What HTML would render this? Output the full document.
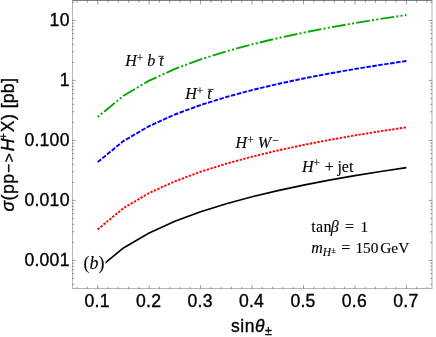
<!DOCTYPE html>
<html><head><meta charset="utf-8"><title>plot</title>
<style>html,body{margin:0;padding:0;background:#fff;}body{width:436px;height:337px;overflow:hidden;}svg{display:block;will-change:transform;}text{font-family:"Liberation Sans",sans-serif;fill:#000;stroke:#000;stroke-width:0.35px;}.s{font-family:"Liberation Serif",serif;stroke-width:0.12px;white-space:pre;}.i{font-style:italic;}</style>
</head><body>
<svg width="436" height="337" viewBox="0 0 436 337">
<rect x="0" y="0" width="436" height="337" fill="#fff"/>
<g fill="none" stroke-linejoin="round">
<path d="M97.70 117.00 L123.43 95.75 L149.15 80.67 L174.88 68.97 L200.60 59.41 L226.32 51.33 L252.05 44.33 L277.78 38.16 L303.50 32.64 L329.23 27.64 L354.95 23.08 L380.68 18.88 L406.40 15.00" stroke="#00a800" stroke-width="1.9" stroke-dasharray="2.1 2.2 2.1 2.2 13.79 2.2" stroke-dashoffset="0.2"/>
<path d="M97.70 162.10 L123.43 141.03 L149.15 126.09 L174.88 114.49 L200.60 105.02 L226.32 97.01 L252.05 90.07 L277.78 83.96 L303.50 78.48 L329.23 73.53 L354.95 69.01 L380.68 64.85 L406.40 61.00" stroke="#0000ff" stroke-width="1.9" stroke-dasharray="4.55 1.467"/>
<path d="M97.70 229.40 L123.43 208.13 L149.15 193.03 L174.88 181.32 L200.60 171.76 L226.32 163.67 L252.05 156.66 L277.78 150.48 L303.50 144.95 L329.23 139.95 L354.95 135.39 L380.68 131.19 L406.40 127.30" stroke="#ff0000" stroke-width="1.9" stroke-dasharray="2.4 1.4"/>
<path d="M97.70 269.10 L123.43 247.95 L149.15 232.94 L174.88 221.31 L200.60 211.80 L226.32 203.76 L252.05 196.79 L277.78 190.65 L303.50 185.15 L329.23 180.18 L354.95 175.64 L380.68 171.47 L406.40 167.60" stroke="#000" stroke-width="1.65"/>
</g>
<g stroke="#6a6a6a" fill="none">
<path d="M72.25 0.5 H432.25" stroke-width="0.85"/>
<path d="M72.25 288.50 H432.25" stroke-width="0.5"/>
<path d="M72.50 0 V288.75" stroke-width="0.5"/>
<path d="M432.00 0 V288.75" stroke-width="0.5"/>
</g>
<path d="M77.12 288.75 v-1.95 M77.12 0.00 v2.70 M87.41 288.75 v-1.95 M87.41 0.00 v2.70 M97.70 288.75 v-3.55 M97.70 0.00 v4.30 M107.99 288.75 v-1.95 M107.99 0.00 v2.70 M118.28 288.75 v-1.95 M118.28 0.00 v2.70 M128.57 288.75 v-1.95 M128.57 0.00 v2.70 M138.86 288.75 v-1.95 M138.86 0.00 v2.70 M149.15 288.75 v-3.55 M149.15 0.00 v4.30 M159.44 288.75 v-1.95 M159.44 0.00 v2.70 M169.73 288.75 v-1.95 M169.73 0.00 v2.70 M180.02 288.75 v-1.95 M180.02 0.00 v2.70 M190.31 288.75 v-1.95 M190.31 0.00 v2.70 M200.60 288.75 v-3.55 M200.60 0.00 v4.30 M210.89 288.75 v-1.95 M210.89 0.00 v2.70 M221.18 288.75 v-1.95 M221.18 0.00 v2.70 M231.47 288.75 v-1.95 M231.47 0.00 v2.70 M241.76 288.75 v-1.95 M241.76 0.00 v2.70 M252.05 288.75 v-3.55 M252.05 0.00 v4.30 M262.34 288.75 v-1.95 M262.34 0.00 v2.70 M272.63 288.75 v-1.95 M272.63 0.00 v2.70 M282.92 288.75 v-1.95 M282.92 0.00 v2.70 M293.21 288.75 v-1.95 M293.21 0.00 v2.70 M303.50 288.75 v-3.55 M303.50 0.00 v4.30 M313.79 288.75 v-1.95 M313.79 0.00 v2.70 M324.08 288.75 v-1.95 M324.08 0.00 v2.70 M334.37 288.75 v-1.95 M334.37 0.00 v2.70 M344.66 288.75 v-1.95 M344.66 0.00 v2.70 M354.95 288.75 v-3.55 M354.95 0.00 v4.30 M365.24 288.75 v-1.95 M365.24 0.00 v2.70 M375.53 288.75 v-1.95 M375.53 0.00 v2.70 M385.82 288.75 v-1.95 M385.82 0.00 v2.70 M396.11 288.75 v-1.95 M396.11 0.00 v2.70 M406.40 288.75 v-3.55 M406.40 0.00 v4.30 M416.69 288.75 v-1.95 M416.69 0.00 v2.70 M426.98 288.75 v-1.95 M426.98 0.00 v2.70 M72.25 284.28 h1.95 M432.25 284.28 h-1.95 M72.25 278.46 h1.95 M432.25 278.46 h-1.95 M72.25 273.71 h1.95 M432.25 273.71 h-1.95 M72.25 269.69 h1.95 M432.25 269.69 h-1.95 M72.25 266.21 h1.95 M432.25 266.21 h-1.95 M72.25 263.15 h1.95 M432.25 263.15 h-1.95 M72.25 260.40 h3.55 M432.25 260.40 h-3.55 M72.25 242.34 h1.95 M432.25 242.34 h-1.95 M72.25 231.77 h1.95 M432.25 231.77 h-1.95 M72.25 224.28 h1.95 M432.25 224.28 h-1.95 M72.25 218.46 h1.95 M432.25 218.46 h-1.95 M72.25 213.71 h1.95 M432.25 213.71 h-1.95 M72.25 209.69 h1.95 M432.25 209.69 h-1.95 M72.25 206.21 h1.95 M432.25 206.21 h-1.95 M72.25 203.15 h1.95 M432.25 203.15 h-1.95 M72.25 200.40 h3.55 M432.25 200.40 h-3.55 M72.25 182.34 h1.95 M432.25 182.34 h-1.95 M72.25 171.77 h1.95 M432.25 171.77 h-1.95 M72.25 164.28 h1.95 M432.25 164.28 h-1.95 M72.25 158.46 h1.95 M432.25 158.46 h-1.95 M72.25 153.71 h1.95 M432.25 153.71 h-1.95 M72.25 149.69 h1.95 M432.25 149.69 h-1.95 M72.25 146.21 h1.95 M432.25 146.21 h-1.95 M72.25 143.15 h1.95 M432.25 143.15 h-1.95 M72.25 140.40 h3.55 M432.25 140.40 h-3.55 M72.25 122.34 h1.95 M432.25 122.34 h-1.95 M72.25 111.77 h1.95 M432.25 111.77 h-1.95 M72.25 104.28 h1.95 M432.25 104.28 h-1.95 M72.25 98.46 h1.95 M432.25 98.46 h-1.95 M72.25 93.71 h1.95 M432.25 93.71 h-1.95 M72.25 89.69 h1.95 M432.25 89.69 h-1.95 M72.25 86.21 h1.95 M432.25 86.21 h-1.95 M72.25 83.15 h1.95 M432.25 83.15 h-1.95 M72.25 80.40 h3.55 M432.25 80.40 h-3.55 M72.25 62.34 h1.95 M432.25 62.34 h-1.95 M72.25 51.77 h1.95 M432.25 51.77 h-1.95 M72.25 44.28 h1.95 M432.25 44.28 h-1.95 M72.25 38.46 h1.95 M432.25 38.46 h-1.95 M72.25 33.71 h1.95 M432.25 33.71 h-1.95 M72.25 29.69 h1.95 M432.25 29.69 h-1.95 M72.25 26.21 h1.95 M432.25 26.21 h-1.95 M72.25 23.15 h1.95 M432.25 23.15 h-1.95 M72.25 20.40 h3.55 M432.25 20.40 h-3.55 M72.25 2.34 h1.95 M432.25 2.34 h-1.95" stroke="#585858" stroke-width="0.6" fill="none"/>
<text x="69.7" y="26.10" font-size="17.6" letter-spacing="0.25" text-anchor="end">10</text>
<text x="69.7" y="86.10" font-size="17.6" letter-spacing="0.25" text-anchor="end">1</text>
<text x="69.7" y="146.10" font-size="17.6" letter-spacing="0.25" text-anchor="end">0.100</text>
<text x="69.7" y="206.10" font-size="17.6" letter-spacing="0.25" text-anchor="end">0.010</text>
<text x="69.7" y="266.10" font-size="17.6" letter-spacing="0.25" text-anchor="end">0.001</text>
<text x="97.20" y="306.6" font-size="17.6" letter-spacing="0.25" text-anchor="middle">0.1</text>
<text x="148.65" y="306.6" font-size="17.6" letter-spacing="0.25" text-anchor="middle">0.2</text>
<text x="200.10" y="306.6" font-size="17.6" letter-spacing="0.25" text-anchor="middle">0.3</text>
<text x="251.55" y="306.6" font-size="17.6" letter-spacing="0.25" text-anchor="middle">0.4</text>
<text x="303.00" y="306.6" font-size="17.6" letter-spacing="0.25" text-anchor="middle">0.5</text>
<text x="354.45" y="306.6" font-size="17.6" letter-spacing="0.25" text-anchor="middle">0.6</text>
<text x="405.90" y="306.6" font-size="17.6" letter-spacing="0.25" text-anchor="middle">0.7</text>
<text x="231.0" y="331.9" font-size="17.5" letter-spacing="0.55">sin<tspan class="i">θ</tspan><tspan font-size="12.4" dy="3.3">±</tspan></text>
<g transform="translate(14.0 211.5) rotate(-90)" font-size="17.6" letter-spacing="0.5"><text x="0" y="0"><tspan class="i">σ</tspan>(pp</text><text x="38.6" y="-0.3" font-size="15.5">−</text><text x="49.3" y="-0.3" font-size="15.5">&gt;</text><text x="60.3" y="0" class="i">H</text><text x="72.0" y="-6.6" font-size="11">+</text><text x="79.2" y="0">X)</text><text x="103.2" y="0" letter-spacing="0.25">[pb]</text></g>
<g class="s" font-size="16" xml:space="preserve">
<text class="s" x="125.3" y="66.3"><tspan class="i">H</tspan><tspan font-size="11.5" dy="-4.2">+</tspan><tspan dy="4.2" class="i"> b </tspan><tspan class="i">t</tspan></text>
<text class="s" x="185.3" y="99.2"><tspan class="i">H</tspan><tspan font-size="11.5" dy="-4.2">+</tspan><tspan dy="4.2" class="i"> t</tspan></text>
<text class="s" x="235.6" y="148.3"><tspan class="i">H</tspan><tspan font-size="11.5" dy="-4.2">+</tspan><tspan dy="4.2" class="i"> W</tspan><tspan font-size="11.5" dy="-4.2" dx="1.2">−</tspan></text>
<text class="s" x="302" y="171.6"><tspan class="i">H</tspan><tspan font-size="11.5" dy="-4.2">+</tspan><tspan dy="4.2"> </tspan><tspan dx="0.8">+</tspan><tspan dx="-0.5"> jet</tspan></text>
<text class="s" x="311.3" y="232.1" letter-spacing="0.3">tan<tspan class="i" dx="-0.9">β</tspan></text>
<text class="s" x="345.0" y="232.1" font-size="16">=</text>
<text class="s" x="360.6" y="232.1" font-size="15.4">1</text>
<text class="s" x="311.3" y="252.9"><tspan class="i">m</tspan><tspan class="i" font-size="11.5" dy="3.5" dx="0">H</tspan><tspan font-size="8" dy="-3.5" dx="0.3">±</tspan></text>
<text class="s" x="341.2" y="252.9" font-size="16">=</text>
<text class="s" x="355.4" y="252.9" font-size="15.4">150</text>
<text class="s" x="380.2" y="252.9" font-size="15.4">GeV</text>
</g>
<path d="M158.3 56.3 H163.9 M207.8 89.4 H213.8" stroke="#000" stroke-width="0.8" fill="none"/>
<rect x="83" y="254" width="22.5" height="20" fill="#fff"/>
<text class="s" x="83.6" y="269.2" font-size="17.9">(<tspan class="i">b</tspan>)</text>
</svg></body></html>
